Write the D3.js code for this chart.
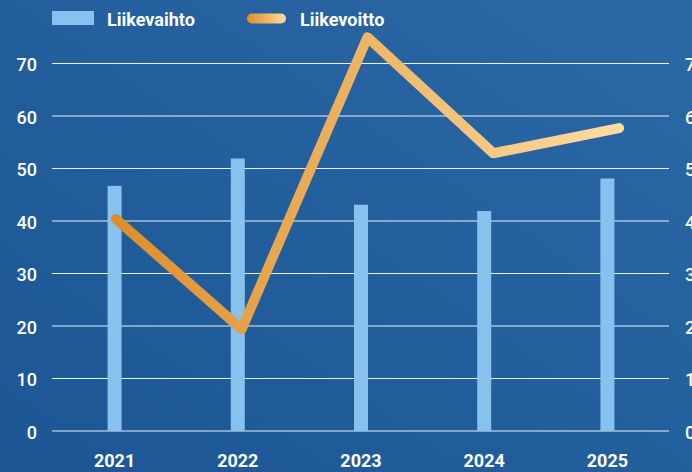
<!DOCTYPE html>
<html>
<head>
<meta charset="utf-8">
<script src="https://cdn.jsdelivr.net/npm/d3@7"></script>
<style>
  html, body { margin: 0; padding: 0; background: #215c99; }
  svg { display: block; font-family: Roboto, "Liberation Sans", sans-serif; }
</style>
</head>
<body>
<div id="chart"></div>
<script>
// Data
var years = ["2021", "2022", "2023", "2024", "2025"];
var liikevaihto = [46.7, 51.9, 43.1, 41.9, 48.1];
var liikevoitto = [40.4, 19.4, 75.0, 52.9, 57.7];
var yTicks = [0, 10, 20, 30, 40, 50, 60, 70];
var seriesNames = ["Liikevaihto", "Liikevoitto"];

var width = 692, height = 472;
var margin = {top: 64, right: 23, bottom: 41, left: 52};

var svg = d3.select("#chart").append("svg")
    .attr("width", width)
    .attr("height", height);

var defs = svg.append("defs");

// background gradient
var bg = defs.append("linearGradient")
    .attr("id", "bg")
    .attr("x1", "0%").attr("y1", "100%")
    .attr("x2", "100%").attr("y2", "0%");
bg.append("stop").attr("offset", "0%").attr("stop-color", "#1c5694");
bg.append("stop").attr("offset", "100%").attr("stop-color", "#2b68a6");

// line gradient
function lineGrad(id) {
  var g = defs.append("linearGradient")
      .attr("id", id)
      .attr("x1", "0%").attr("y1", "0%")
      .attr("x2", "100%").attr("y2", "0%");
  g.append("stop").attr("offset", "0%").attr("stop-color", "#dd8e2b");
  g.append("stop").attr("offset", "100%").attr("stop-color", "#fedca0");
}
lineGrad("lineGrad");
lineGrad("legendGrad");

svg.append("rect")
    .attr("width", width)
    .attr("height", height)
    .attr("fill", "url(#bg)");

// Scales
var y = d3.scaleLinear()
    .domain([0, 70])
    .range([431, margin.top - 0.5]);

var xBar = d3.scalePoint()
    .domain(years)
    .range([margin.left + 1, width - margin.right])
    .padding(0.5);

var xLine = d3.scalePoint()
    .domain(years)
    .range([margin.left + 1, width - 10])
    .padding(0.5);

// gridlines
svg.append("g")
    .selectAll("line")
    .data(yTicks)
    .enter()
    .append("line")
      .attr("x1", margin.left)
      .attr("x2", width - margin.right)
      .attr("y1", function(d) { return y(d); })
      .attr("y2", function(d) { return y(d); })
      .attr("stroke", "#ffffff")
      .attr("stroke-opacity", 0.9)
      .attr("stroke-width", 1.2);

// left axis labels
svg.append("g")
    .selectAll("text")
    .data(yTicks)
    .enter()
    .append("text")
      .attr("x", 37)
      .attr("y", function(d) { return y(d) + 7.5; })
      .attr("text-anchor", "end")
      .attr("fill", "#ffffff")
      .style("font-size", "18px")
      .style("font-weight", 500)
      .text(function(d) { return d; });

// right axis labels (clipped by page edge)
svg.append("g")
    .selectAll("text")
    .data(yTicks)
    .enter()
    .append("text")
      .attr("x", 685)
      .attr("y", function(d) { return y(d) + 7.5; })
      .attr("text-anchor", "start")
      .attr("fill", "#ffffff")
      .style("font-size", "18px")
      .style("font-weight", 500)
      .text(function(d) { return d; });

// x axis labels
svg.append("g")
    .selectAll("text")
    .data(years)
    .enter()
    .append("text")
      .attr("x", function(d) { return xBar(d); })
      .attr("y", 467)
      .attr("text-anchor", "middle")
      .attr("fill", "#ffffff")
      .style("font-size", "18px")
      .style("font-weight", 700)
      .text(function(d) { return d; });

// bars
var barW = 14;
svg.append("g")
    .selectAll("rect")
    .data(liikevaihto)
    .enter()
    .append("rect")
      .attr("x", function(d, i) { return xBar(years[i]) - barW / 2; })
      .attr("y", function(d) { return y(d); })
      .attr("width", barW)
      .attr("height", function(d) { return y(0) - y(d); })
      .attr("fill", "#86c2ed");

// line
var line = d3.line()
    .x(function(d, i) { return xLine(years[i]); })
    .y(function(d) { return y(d); });

svg.append("path")
    .datum(liikevoitto)
    .attr("d", line)
    .attr("fill", "none")
    .attr("stroke", "url(#lineGrad)")
    .attr("stroke-width", 10)
    .attr("stroke-linecap", "round")
    .attr("stroke-linejoin", "round");

// Legend
var legend = svg.append("g");
legend.append("rect")
    .attr("x", 52).attr("y", 11)
    .attr("width", 42).attr("height", 14)
    .attr("fill", "#86c2ed");
legend.append("text")
    .attr("x", 107).attr("y", 25.5)
    .attr("fill", "#ffffff")
    .style("font-size", "18px")
    .style("font-weight", 700)
    .text(seriesNames[0]);

legend.append("rect")
    .attr("x", 247).attr("y", 13.5)
    .attr("width", 39).attr("height", 10)
    .attr("rx", 5).attr("ry", 5)
    .attr("fill", "url(#legendGrad)");
legend.append("text")
    .attr("x", 300).attr("y", 25.5)
    .attr("fill", "#ffffff")
    .style("font-size", "18px")
    .style("font-weight", 700)
    .text(seriesNames[1]);
</script>
</body>
</html>
